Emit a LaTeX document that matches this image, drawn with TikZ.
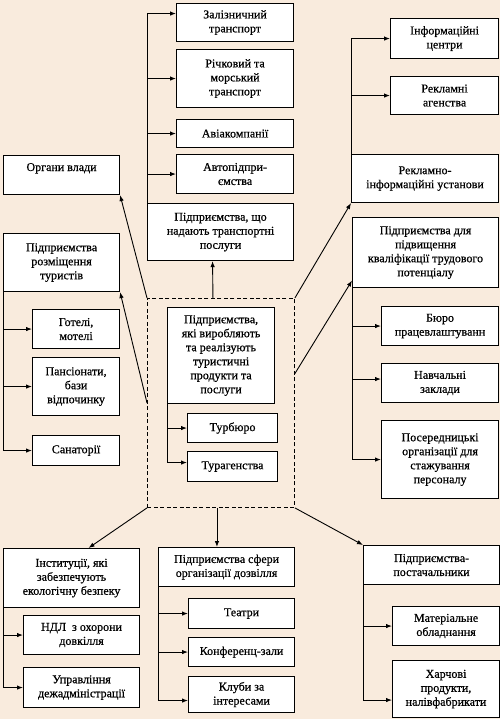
\documentclass[tikz,border=0pt]{standalone}
\usepackage{fontspec}
\setmainfont{Liberation Serif}
\newfontfamily\scanfont{Liberation Serif}[FakeBold=0.6]
\usepackage{tikz}
\usetikzlibrary{arrows.meta,positioning,calc}
\definecolor{Paper}{HTML}{F9EBDD}

\begin{document}
\begin{tikzpicture}[x=1pt, y=-1pt,
  box/.style={draw, line width=1.1pt, fill=white, align=center, inner sep=1pt, anchor=north west, font=\scanfont\fontsize{12}{14}\selectfont},
  zonebox/.style={draw, line width=0.9pt, dash pattern=on 4pt off 2.5pt, anchor=north west, inner sep=0pt},
  arrow/.style={-{Latex[length=6pt,width=4.5pt]}, line width=0.9pt}
]
\fill[Paper] (0,0) rectangle (500,719);
\useasboundingbox (0,0) rectangle (500,719);

\node[zonebox, minimum width=147pt, minimum height=209pt] (zone) at (147,298) {};

\node[box, minimum width=117pt, minimum height=38pt] (zal) at (176,3) {Залізничний\\транспорт};
\node[box, minimum width=117pt, minimum height=58pt] (richk) at (176,49) {Річковий та\\морський\\транспорт};
\node[box, minimum width=117pt, minimum height=28pt] (avia) at (176,119) {Авіакомпанії};
\node[box, minimum width=117pt, minimum height=39pt] (avto) at (176,154) {Автопідпри-\\ємства};
\node[box, minimum width=146pt, minimum height=57pt] (transp) at (147,203) {Підприємства, що\\надають транспортні\\послуги};

\node[box, minimum width=116pt, minimum height=39pt, text depth=16pt] (organy) at (3,155) {Органи влади};
\node[box, minimum width=116pt, minimum height=58pt] (rozm) at (3,233) {Підприємства\\розміщення\\туристів};
\node[box, minimum width=87pt, minimum height=39pt] (hotel) at (32,309) {Готелі,\\мотелі};
\node[box, minimum width=87pt, minimum height=58pt] (pans) at (32,357) {Пансіонати,\\бази\\відпочинку};
\node[box, minimum width=87pt, minimum height=30pt] (sanat) at (32,435) {Санаторії};

\node[box, minimum width=107pt, minimum height=96pt] (ctr) at (167,307) {Підприємства,\\які виробляють\\та реалізують\\туристичні\\продукти та\\послуги};
\node[box, minimum width=90pt, minimum height=29pt] (turb) at (187,413) {Турбюро};
\node[box, minimum width=90pt, minimum height=30pt] (turag) at (187,451) {Турагенства};

\node[box, minimum width=108pt, minimum height=40pt] (infc) at (390,18) {Інформаційні\\центри};
\node[box, minimum width=108pt, minimum height=38pt] (reklag) at (390,76) {Рекламні\\агенства};
\node[box, minimum width=147pt, minimum height=48pt] (rekinf) at (351,154) {Рекламно-\\інформаційні установи};

\node[box, minimum width=146pt, minimum height=70pt] (kvalif) at (352,217) {Підприємства для\\підвищення\\кваліфікації трудового\\потенціалу};
\node[box, minimum width=117pt, minimum height=39pt] (buro) at (381,306) {Бюро\\працевлаштуванн};
\node[box, minimum width=117pt, minimum height=39pt] (navch) at (381,363) {Навчальні\\заклади};
\node[box, minimum width=117pt, minimum height=78pt] (poser) at (381,420) {Посередницькі\\організації для\\стажування\\персоналу};

\node[box, minimum width=136pt, minimum height=59pt] (instyt) at (3,548) {Інституції, які\\забезпечують\\екологічну безпеку};
\node[box, minimum width=116pt, minimum height=39pt] (ndl) at (23,615) {НДЛ\ \ з охорони\\довкілля};
\node[box, minimum width=116pt, minimum height=40pt] (uprav) at (23,667) {Управління\\дежадміністрації};

\node[box, minimum width=136pt, minimum height=39pt] (dozv) at (158,547) {Підприємства сфери\\організації дозвілля};
\node[box, minimum width=106pt, minimum height=30pt] (teatr) at (188,598) {Театри};
\node[box, minimum width=106pt, minimum height=29pt] (konf) at (188,637) {Конференц-зали};
\node[box, minimum width=106pt, minimum height=36pt] (klub) at (188,676) {Клуби за\\інтересами};

\node[box, minimum width=136pt, minimum height=39pt] (postach) at (363,545) {Підприємства-\\постачальники};
\node[box, minimum width=107pt, minimum height=39pt] (mater) at (392,606) {Матеріальне\\обладнання};
\node[box, minimum width=107pt, minimum height=57pt] (harch) at (392,660) {Харчові\\продукти,\\налівфабрикати};

\draw[arrow] (transp.north west) |- ([yshift=9pt]zal.west);
\draw[arrow] (transp.north west) |- (richk.west);
\draw[arrow] (transp.north west) |- (avia.west);
\draw[arrow] (transp.north west) |- (avto.west);
\draw[arrow] (rozm.south west) |- (hotel.west);
\draw[arrow] (rozm.south west) |- (pans.west);
\draw[arrow] (rozm.south west) |- (sanat.west);
\draw[arrow] (ctr.south west) |- (turb.west);
\draw[arrow] (ctr.south west) |- ([yshift=4pt]turag.west);
\draw[arrow] (rekinf.north west) |- (infc.west);
\draw[arrow] (rekinf.north west) |- (reklag.west);
\draw[arrow] (kvalif.south west) |- (buro.west);
\draw[arrow] (kvalif.south west) |- ([yshift=4pt]navch.west);
\draw[arrow] (kvalif.south west) |- (poser.west);
\draw[arrow] (instyt.south west) |- (ndl.west);
\draw[arrow] (instyt.south west) |- (uprav.west);
\draw[arrow] (dozv.south west) |- (teatr.west);
\draw[arrow] (dozv.south west) |- (konf.west);
\draw[arrow] (dozv.south west) |- ([yshift=-6pt]klub.west);
\draw[arrow] (postach.south west) |- (mater.west);
\draw[arrow] (postach.south west) |- ([yshift=-11pt]harch.west);

\draw[arrow] ([xshift=-8pt]zone.north) -- ([xshift=-8pt]transp.south);
\draw[arrow] (zone.north west) -- (organy.south east);
\draw[arrow] (zone.west) -- (rozm.south east);
\draw[arrow] (zone.north east) -- (rekinf.south west);
\draw[arrow] ($(zone.north east)!0.36!(zone.south east)$) -- ([yshift=-28pt]kvalif.west);
\draw[arrow] (zone.south west) -- ([xshift=17pt]instyt.north);
\draw[arrow] ([xshift=-4pt]zone.south) -- ([xshift=-4pt]zone.south |- dozv.north);
\draw[arrow] (zone.south east) -- (postach.north west);
\end{tikzpicture}
\end{document}
